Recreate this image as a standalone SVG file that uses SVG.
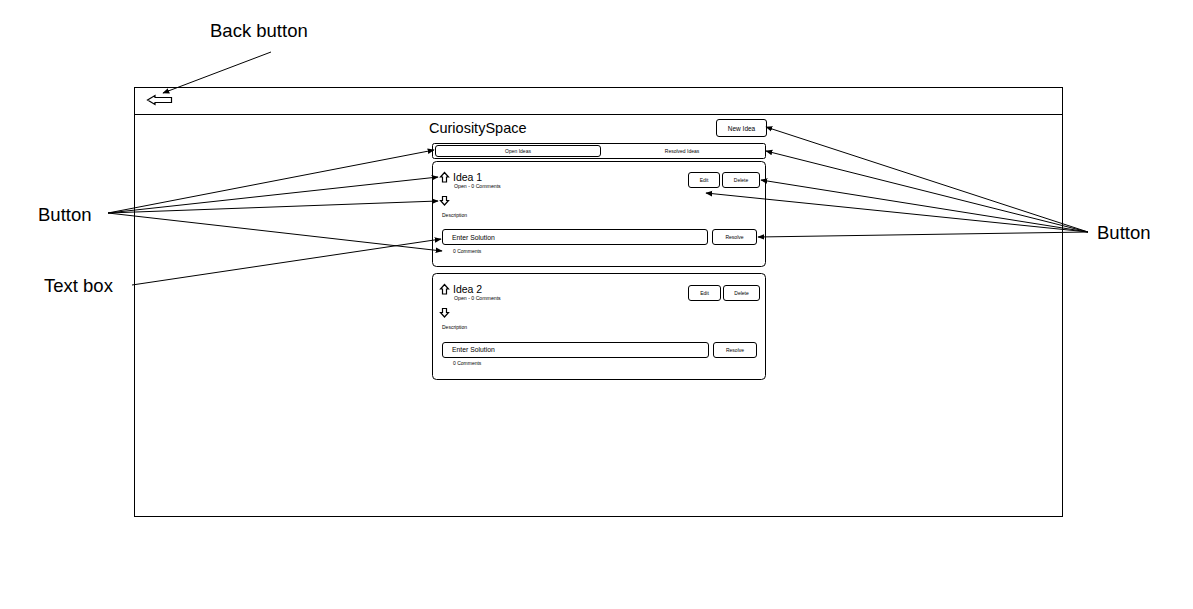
<svg xmlns="http://www.w3.org/2000/svg" width="1193" height="609" viewBox="0 0 1193 609">
<defs>
<style>
.frame{fill:#fff;stroke:#000;stroke-width:1}
.btn{fill:#fff;stroke:#000;stroke-width:1}
.ic{fill:#fff;stroke:#000;stroke-width:1.2;stroke-linejoin:miter}
.t{font-family:"Liberation Sans",Arial,sans-serif;fill:#000}
.lbl{font-family:"Liberation Sans",Arial,sans-serif;font-size:18.5px;fill:#000}
.c{stroke:#000;stroke-width:1;fill:none;marker-end:url(#ah)}
.l{stroke:#000;stroke-width:1;fill:none}
</style>
<marker id="ah" viewBox="0 0 10 10" refX="9" refY="5" markerWidth="7" markerHeight="7" markerUnits="userSpaceOnUse" orient="auto">
<path d="M0,1 L10,5 L0,9 z" fill="#000"/>
</marker>
</defs>
<rect width="1193" height="609" fill="#fff"/>

<g id="window">
<rect class="frame" x="134.5" y="87.5" width="928" height="429"/>
<line class="l" x1="134.5" y1="114.5" x2="1062.5" y2="114.5"/>
</g>

<g id="back-button">
<path class="ic" d="M147.5,100 L155,95.5 L155,97.5 L171.5,97.5 L171.5,102.5 L155,102.5 L155,104.5 Z"/>
</g>

<g id="title">
<text class="t" x="429" y="133" font-size="14.5">CuriositySpace</text>
</g>

<g id="new-idea">
<rect class="btn" x="716.5" y="119.5" width="50" height="17" rx="2.5"/>
<text class="t" x="741.5" y="130.5" font-size="6.5" text-anchor="middle">New Idea</text>
</g>

<g id="tabs">
<rect class="btn" x="432.5" y="143.5" width="333" height="15" rx="2"/>
<rect class="btn" x="435.5" y="145.5" width="165" height="11" rx="2.5"/>
<text class="t" x="518" y="153" font-size="5" text-anchor="middle">Open Ideas</text>
<text class="t" x="682" y="153" font-size="5" text-anchor="middle">Resolved Ideas</text>
</g>

<g id="idea-1">
<rect class="btn" x="432.5" y="161.5" width="333" height="105" rx="4"/>
<path class="ic" d="M444.5,172.5 L448.5,177 L446.5,177 L446.5,182 L442.5,182 L442.5,177 L440.5,177 Z"/>
<text class="t" x="453" y="181" font-size="10.5">Idea 1</text>
<text class="t" x="454" y="188" font-size="5.2">Open - 0 Comments</text>
<path class="ic" d="M444.5,205 L448.5,200.5 L446.5,200.5 L446.5,196.5 L442.5,196.5 L442.5,200.5 L440.5,200.5 Z"/>
<text class="t" x="442" y="217" font-size="5">Description</text>
<rect class="btn" x="688.5" y="172.5" width="31" height="15" rx="2.5"/>
<text class="t" x="704" y="182" font-size="5" text-anchor="middle">Edit</text>
<rect class="btn" x="722.5" y="172.5" width="37" height="15" rx="2.5"/>
<text class="t" x="741" y="182" font-size="5" text-anchor="middle">Delete</text>
<rect class="btn" x="442.5" y="229.5" width="265" height="15" rx="2.5"/>
<text class="t" x="452" y="239.5" font-size="6.8">Enter Solution</text>
<rect class="btn" x="712.5" y="229.5" width="44" height="15" rx="2.5"/>
<text class="t" x="734.5" y="239" font-size="5" text-anchor="middle">Resolve</text>
<text class="t" x="453" y="253" font-size="5">0 Comments</text>
</g>

<g id="idea-2">
<rect class="btn" x="432.5" y="273.5" width="333" height="106" rx="4"/>
<path class="ic" d="M444.5,284.5 L448.5,289 L446.5,289 L446.5,294 L442.5,294 L442.5,289 L440.5,289 Z"/>
<text class="t" x="453" y="293" font-size="10.5">Idea 2</text>
<text class="t" x="454" y="300" font-size="5.2">Open - 0 Comments</text>
<path class="ic" d="M444.5,317 L448.5,312.5 L446.5,312.5 L446.5,308.5 L442.5,308.5 L442.5,312.5 L440.5,312.5 Z"/>
<text class="t" x="442" y="329" font-size="5">Description</text>
<rect class="btn" x="688.5" y="285.5" width="32" height="15" rx="2.5"/>
<text class="t" x="704.5" y="294.5" font-size="5" text-anchor="middle">Edit</text>
<rect class="btn" x="723.5" y="285.5" width="36" height="15" rx="2.5"/>
<text class="t" x="741.5" y="294.5" font-size="5" text-anchor="middle">Delete</text>
<rect class="btn" x="442.5" y="342.5" width="266" height="15" rx="2.5"/>
<text class="t" x="452" y="352" font-size="6.8">Enter Solution</text>
<rect class="btn" x="713.5" y="342.5" width="43" height="15" rx="2.5"/>
<text class="t" x="735" y="352" font-size="5" text-anchor="middle">Resolve</text>
<text class="t" x="453" y="365" font-size="5">0 Comments</text>
</g>

<g id="label-back"><text class="lbl" x="210" y="37">Back button</text></g>
<g id="label-button-left"><text class="lbl" x="38" y="220.5">Button</text></g>
<g id="label-textbox"><text class="lbl" x="44" y="291.5">Text box</text></g>
<g id="label-button-right"><text class="lbl" x="1097" y="238.5">Button</text></g>

<g id="connectors">
<line class="c" x1="271" y1="52" x2="163" y2="93"/>
<line class="c" x1="108" y1="213" x2="434" y2="150"/>
<line class="c" x1="108" y1="213" x2="438" y2="177"/>
<line class="c" x1="108" y1="213" x2="438" y2="201"/>
<line class="c" x1="108" y1="213" x2="442" y2="251"/>
<line class="c" x1="132" y1="285" x2="441" y2="239"/>
<line class="c" x1="1088" y1="232" x2="766" y2="127"/>
<line class="c" x1="1088" y1="232" x2="766" y2="151"/>
<line class="c" x1="1088" y1="232" x2="761" y2="180"/>
<line class="c" x1="1088" y1="232" x2="706" y2="193"/>
<line class="c" x1="1088" y1="232" x2="758" y2="237"/>
</g>
</svg>
